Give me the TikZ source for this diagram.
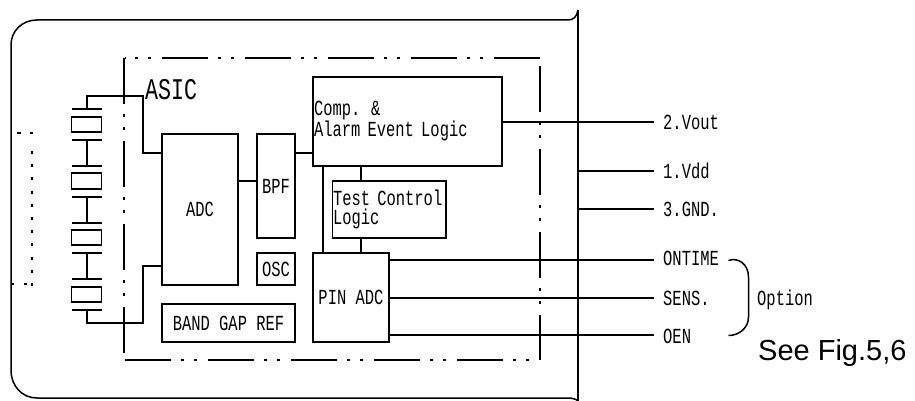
\documentclass[tikz,border=0pt]{standalone}
\usepackage{fontspec}
\setmainfont{Liberation Sans}
\newfontfamily\gothic[FakeStretch=0.72]{Liberation Mono}
\usetikzlibrary{calc}
\tikzset{
  wire/.style={line width=1.5pt},
  blockbox/.style={draw,line width=1.5pt,inner sep=0pt,align=center,font=\gothic\fontsize{21.5}{19.5}\selectfont},
  xtalbox/.style={draw,line width=1.5pt,inner sep=0pt,minimum width=30pt},
  pinlabel/.style={anchor=base west,inner sep=0pt,font=\gothic\fontsize{21.5}{19.5}\selectfont},
  asicedge/.style={line width=1.5pt,dash pattern=on 46pt off 10pt on 3pt off 10pt on 3pt off 11pt},
  dotline/.style={line width=1.5pt,dash pattern=on 3pt off 10.2pt},
}
\begin{document}
\begin{tikzpicture}[x=1pt,y=-1pt]
\useasboundingbox (0,0) rectangle (915,401);
% housing
\draw[line width=1.5pt] (578,10) .. controls (577,17) and (573,20) .. (568,20) -- (37,20)
  .. controls (22,20) and (11,31) .. (11,45) -- (11,370)
  .. controls (11,386) and (22,398) .. (37,398) -- (568,398)
  .. controls (572,398) and (576,399) .. (578,401);
\draw[line width=1.5pt] (578,10) -- (578,401);
% ASIC outline
\draw[asicedge,dash phase=45.5pt] (124.5,58) -- (540,58);
\draw[asicedge] (124,58) -- (124,354);
\draw[asicedge] (124.5,360) -- (530,360);
\draw[asicedge] (540,66) -- (540,360);
% dotted outline on the left
\draw[line width=1.5pt,dash pattern=on 3.5pt off 9.5pt] (17,133) -- (33,133);
\draw[dotline] (32,151) -- (32,286);
\draw[line width=1.5pt,dash pattern=on 3pt off 10pt] (11,284) -- (33,284);
% blocks
\node[blockbox,minimum width=76pt,minimum height=151pt] (adc) at (200,209.5) {ADC};
\node[blockbox,minimum width=38pt,minimum height=104pt] (bpf) at (276,186) {BPF};
\node[blockbox,minimum width=189pt,minimum height=89pt,text width=187pt,align=left] (comp) at (407.5,121.5) {Comp. \&\\Alarm Event Logic};
\node[blockbox,minimum width=113.5pt,minimum height=57pt,text width=112.5pt,align=left] (test) at (389.25,209.5) {Test Control\\Logic};
\node[blockbox,minimum width=76pt,minimum height=89pt] (pin) at (351,297.5) {PIN ADC};
\node[blockbox,minimum width=38pt,minimum height=32pt] (osc) at (276,269) {OSC};
\node[blockbox,minimum width=133pt,minimum height=38pt] (band) at (228.5,323) {BAND GAP REF};
\node[anchor=base west,inner sep=0pt,font=\gothic\fontsize{30}{30}\selectfont] (asic) at (145,100) {ASIC};
% crystal stack
\foreach \i/\yc/\h/\t/\b in {1/124.5/15/109/140,2/181/16/166/197,3/237.5/15/223/253,4/294.5/15/279/310}{
  \node[xtalbox,minimum height=\h pt] (x\i) at (86.5,\yc) {};
  \coordinate (pt\i) at (87,\t);
  \coordinate (pb\i) at (87,\b);
  \draw[wire] (71.5,\t) -- (102,\t);
  \draw[wire] (71.5,\b) -- (102,\b);
}
\draw[wire] (pb1) -- (pt2);
\draw[wire] (pb2) -- (pt3);
\draw[wire] (pb3) -- (pt4);
% rows used by connectors
\coordinate (jtop) at (143,96);
\coordinate (jbot) at (143,323);
\coordinate (r153) at (0,153);
\coordinate (r181) at (0,181);
\coordinate (r266) at (0,266);
\coordinate (pinend) at (654,0);
\coordinate (shell) at (578,0);
\coordinate (tap) at (361,0);
\coordinate (side) at (323,0);
% pin labels
\node[pinlabel] (vout) at (663,129) {2.Vout};
\node[pinlabel] (vdd) at (663,178) {1.Vdd};
\node[pinlabel] (gnd) at (663,216) {3.GND.};
\node[pinlabel] (ontime) at (663,265) {ONTIME};
\node[pinlabel] (sens) at (663,305) {SENS.};
\node[pinlabel] (oen) at (663,343) {OEN};
\node[pinlabel] (option) at (757,305) {Option};
\node[anchor=base west,inner sep=0pt,font=\fontsize{29}{29}\selectfont] (see) at (758,360) {See Fig.5,6};
% connectors
\coordinate (r122) at (0,122);
\coordinate (r171) at (0,171);
\coordinate (r208) at (0,209);
\coordinate (r260) at (0,260);
\coordinate (r298) at (0,298);
\coordinate (r335) at (0,335);
\draw[wire] (pt1) |- (jtop) -- (jtop |- r153) -- (adc.west |- r153);
\draw[wire] (pb4) |- (jbot) -- (jbot |- r266) -- (adc.west |- r266);
\draw[wire] (adc.east |- r181) -- (bpf.west |- r181);
\draw[wire] (bpf.east |- r153) -- (comp.west |- r153);
\draw[wire] (comp.east |- r122) -- (pinend |- r122);
\draw[wire] (tap |- comp.south) -- (tap |- test.north);
\draw[wire] (tap |- test.south) -- (tap |- pin.north);
\draw[wire] (side |- comp.south) -- (side |- pin.north);
\draw[wire] (shell |- r171) -- (pinend |- r171);
\draw[wire] (shell |- r208) -- (pinend |- r208);
\draw[wire] (pin.east |- r260) -- (pinend |- r260);
\draw[wire] (pin.east |- r298) -- (pinend |- r298);
\draw[wire] (pin.east |- r335) -- (pinend |- r335);
% option brace
\draw[line width=1.5pt] (728.5,260.5) .. controls (738,257) and (748.5,264) .. (748.5,277) -- (748.5,317)
  .. controls (748.5,328) and (739,335.5) .. (728.5,335.5);
\end{tikzpicture}
\end{document}
